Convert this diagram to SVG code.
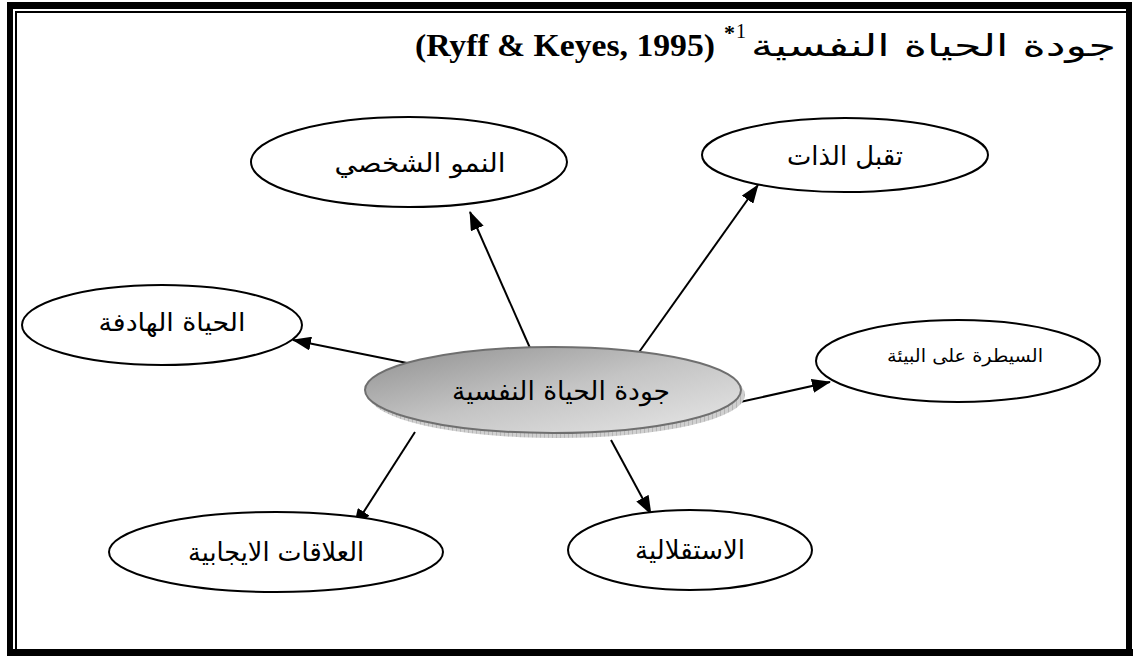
<svg xmlns="http://www.w3.org/2000/svg" width="1133" height="656" viewBox="0 0 1133 656">
<style>
.ar{font-family:"DejaVu Sans","Liberation Sans",sans-serif;fill:#000}
.node{fill:#fff;stroke:#000;stroke-width:2}
.conn{stroke:#000;stroke-width:2;fill:none;marker-end:url(#ah)}
</style>
<defs>
<marker id="ah" markerUnits="userSpaceOnUse" markerWidth="19" markerHeight="14" refX="18" refY="7" orient="auto">
<path d="M0,0 L19,7 L0,14 z" fill="#000"/>
</marker>
<linearGradient id="cg" x1="0" y1="0" x2="1" y2="1">
<stop offset="0" stop-color="#8f8f8f"/>
<stop offset="0.5" stop-color="#c4c4c4"/>
<stop offset="1" stop-color="#e8e8e8"/>
</linearGradient>
<pattern id="hatch" width="4" height="4" patternUnits="userSpaceOnUse">
<rect width="4" height="4" fill="#d0d0d0"/>
<path d="M0,0 V4" stroke="#9a9a9a" stroke-width="1"/>
</pattern>
</defs>
<rect width="1133" height="656" fill="#fff"/>
<g id="frame" fill="#000">
<rect x="7" y="2" width="1125" height="7"/>
<rect x="7" y="2" width="6" height="654"/>
<rect x="7" y="649" width="1126" height="7"/>
<rect x="1126" y="2" width="6" height="654"/>
<rect x="15" y="11" width="1111" height="2"/>
<rect x="15" y="11" width="2" height="638"/>
</g>
<g id="title">
<text x="415" y="56" font-family="Liberation Serif,serif" font-weight="bold" font-size="32" textLength="300" lengthAdjust="spacingAndGlyphs">(Ryff &amp; Keyes, 1995)</text>
<text x="724" y="40" font-family="Liberation Serif,serif" font-weight="bold" font-size="22">*</text>
<text x="736" y="38" font-family="Liberation Serif,serif" font-size="20">1</text>
<text class="ar" x="933.5" y="56" font-size="30" text-anchor="middle" textLength="365" lengthAdjust="spacingAndGlyphs">جودة الحياة النفسية</text>
</g>
<g id="connectors">
<line class="conn" x1="530" y1="348" x2="470" y2="212"/>
<line class="conn" x1="637" y1="355" x2="758" y2="185"/>
<line class="conn" x1="407" y1="363" x2="293" y2="340"/>
<line class="conn" x1="740" y1="402" x2="830" y2="382"/>
<line class="conn" x1="415" y1="432" x2="354" y2="527"/>
<line class="conn" x1="611" y1="440" x2="651" y2="514"/>
</g>
<g id="node-center">
<ellipse cx="557" cy="395" rx="188" ry="43" fill="url(#hatch)"/>
<ellipse cx="553" cy="390" rx="188" ry="43" fill="url(#cg)" stroke="#6f6f6f" stroke-width="2"/>
<text class="ar" x="561" y="400" font-size="26" text-anchor="middle" textLength="218" lengthAdjust="spacingAndGlyphs">جودة الحياة النفسية</text>
</g>
<g id="node-growth">
<ellipse class="node" cx="409" cy="162" rx="158" ry="45"/>
<text class="ar" x="420" y="172" font-size="26" text-anchor="middle" textLength="171" lengthAdjust="spacingAndGlyphs">النمو الشخصي</text>
</g>
<g id="node-acceptance">
<ellipse class="node" cx="845" cy="155" rx="143" ry="37"/>
<text class="ar" x="845" y="165" font-size="26" text-anchor="middle" textLength="116" lengthAdjust="spacingAndGlyphs">تقبل الذات</text>
</g>
<g id="node-purpose">
<ellipse class="node" cx="162" cy="325" rx="140" ry="40"/>
<text class="ar" x="172" y="331" font-size="25" text-anchor="middle" textLength="147" lengthAdjust="spacingAndGlyphs">الحياة الهادفة</text>
</g>
<g id="node-mastery">
<ellipse class="node" cx="958" cy="361" rx="142" ry="41"/>
<text class="ar" x="965" y="362" font-size="18" text-anchor="middle" textLength="156" lengthAdjust="spacingAndGlyphs">السيطرة على البيئة</text>
</g>
<g id="node-relations">
<ellipse class="node" cx="276" cy="552" rx="167" ry="40"/>
<text class="ar" x="276" y="561" font-size="26" text-anchor="middle" textLength="176" lengthAdjust="spacingAndGlyphs">العلاقات الايجابية</text>
</g>
<g id="node-autonomy">
<ellipse class="node" cx="690" cy="550" rx="122" ry="40"/>
<text class="ar" x="690" y="559" font-size="26" text-anchor="middle" textLength="110" lengthAdjust="spacingAndGlyphs">الاستقلالية</text>
</g>
</svg>
